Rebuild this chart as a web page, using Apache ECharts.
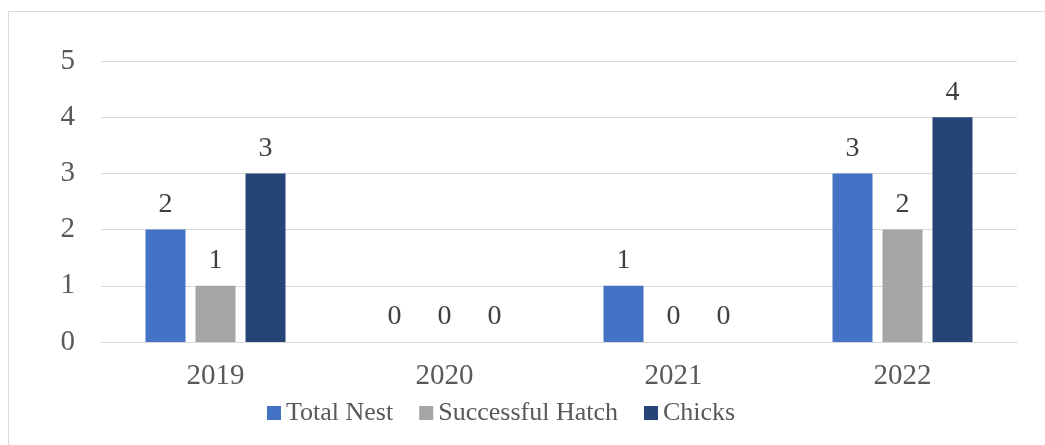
<!DOCTYPE html>
<html>
<head>
<meta charset="utf-8">
<script src="https://cdn.jsdelivr.net/npm/echarts@6/dist/echarts.min.js"></script>
<style>
  html, body { margin: 0; padding: 0; background: #fff; }
  #chart { width: 1045px; height: 445px; }
</style>
</head>
<body>
<div id="chart"></div>
<script>
const years = ['2019', '2020', '2021', '2022'];
const totalNest = [2, 0, 1, 3];
const successfulHatch = [1, 0, 0, 2];
const chicks = [3, 0, 0, 4];

const font = '"Liberation Serif", "Times New Roman", serif';

function barSeries(name, data, color) {
  return {
    name: name,
    type: 'bar',
    data: data,
    barWidth: 40,
    barGap: '25%',
    itemStyle: { color: color },
    label: {
      show: true,
      position: 'top',
      distance: 11,
      fontFamily: font,
      fontSize: 28,
      color: '#404040'
    }
  };
}

let chart = echarts.init(document.getElementById('chart'));
chart.setOption({
  animation: false,
  textStyle: { fontFamily: font },
  graphic: [
    { type: 'line', shape: { x1: 8.5, y1: 11.5, x2: 1045, y2: 11.5 }, style: { stroke: '#d9d9d9', lineWidth: 1 } },
    { type: 'line', shape: { x1: 8.5, y1: 11.5, x2: 8.5, y2: 445 }, style: { stroke: '#d9d9d9', lineWidth: 1 } }
  ],
  grid: { left: 101, right: 28, top: 61, bottom: 103 },
  legend: {
    bottom: 14,
    left: 262,
    itemWidth: 14,
    itemHeight: 14,
    itemGap: 26,
    icon: 'rect',
    textStyle: { fontFamily: font, fontSize: 26, color: '#595959' },
    data: ['Total Nest', 'Successful Hatch', 'Chicks']
  },
  xAxis: {
    type: 'category',
    data: years,
    axisLine: { lineStyle: { color: '#d9d9d9', width: 1 } },
    axisTick: { show: false },
    axisLabel: { fontFamily: font, fontSize: 29, color: '#595959', margin: 20 }
  },
  yAxis: {
    type: 'value',
    min: 0,
    max: 5,
    interval: 1,
    axisLine: { show: false },
    axisTick: { show: false },
    splitLine: { lineStyle: { color: '#d9d9d9', width: 1 } },
    axisLabel: { fontFamily: font, fontSize: 29, color: '#595959', margin: 26 }
  },
  series: [
    barSeries('Total Nest', totalNest, '#4472C4'),
    barSeries('Successful Hatch', successfulHatch, '#A5A5A5'),
    barSeries('Chicks', chicks, '#264478')
  ]
});
</script>
</body>
</html>
